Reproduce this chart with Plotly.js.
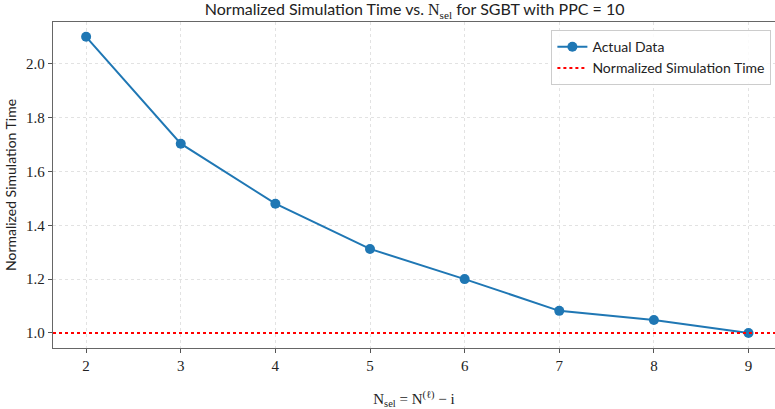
<!DOCTYPE html>
<html><head><meta charset="utf-8">
<script src="https://cdn.plot.ly/plotly-3.0.1.min.js"></script>
<style>body{margin:0;padding:0;background:#fff}#chart{width:775px;height:409px}</style>
</head><body><div id="chart"></div>
<script>
const nSel = [2, 3, 4, 5, 6, 7, 8, 9];
const normTime = [2.10, 1.703, 1.48, 1.312, 1.20, 1.082, 1.048, 1.00];
const referenceLevel = 1.0;
const xTicks = [2, 3, 4, 5, 6, 7, 8, 9];
const yTicks = [1.0, 1.2, 1.4, 1.6, 1.8, 2.0];
const yTickText = ["1.0", "1.2", "1.4", "1.6", "1.8", "2.0"];

const serif = "Liberation Serif, DejaVu Serif, serif";
const sans = "Lato, DejaVu Sans, sans-serif";

const traces = [{
  x: nSel, y: normTime, type: "scatter", mode: "lines+markers",
  name: "Actual Data",
  line: {color: "#1f77b4", width: 2},
  marker: {color: "#1f77b4", size: 10}
}];

const layout = {
  width: 775, height: 409,
  margin: {l: 53, r: 0, t: 22, b: 61},
  paper_bgcolor: "#fff", plot_bgcolor: "#fff",
  title: {
    text: 'Normalized Simulation Time vs. <span style="font-family:' + serif + '">N<sub>sel</sub></span> for SGBT with PPC = 10',
    font: {family: sans, size: 16, color: "#222"},
    x: 0.535, xanchor: "center", y: 0.99, yanchor: "top"
  },
  xaxis: {
    range: [1.65, 9.28], tickvals: xTicks, ticktext: xTicks.map(String),
    ticks: "outside", ticklen: 4, tickcolor: "#555",
    showgrid: true, gridcolor: "#e2e2e2", griddash: "dot", gridwidth: 1,
    showline: true, linecolor: "#666", linewidth: 1.2, mirror: true,
    zeroline: false,
    tickfont: {family: serif, size: 15, color: "#222"},
    title: {text: 'N<sub>sel</sub> = N<sup>(ℓ)</sup> − i', font: {family: serif, size: 15, color: "#222"}, standoff: 22}
  },
  yaxis: {
    range: [0.944, 2.155], tickvals: yTicks, ticktext: yTickText,
    ticks: "outside", ticklen: 4, tickcolor: "#555",
    showgrid: true, gridcolor: "#e2e2e2", griddash: "dot", gridwidth: 1,
    showline: true, linecolor: "#666", linewidth: 1.2, mirror: true,
    zeroline: false,
    tickfont: {family: serif, size: 15, color: "#222"},
    title: {text: "Normalized Simulation Time", font: {family: sans, size: 14, color: "#222"}, standoff: 6}
  },
  shapes: [{
    type: "line", xref: "paper", x0: 0, x1: 1, yref: "y", y0: referenceLevel, y1: referenceLevel,
    line: {color: "red", width: 2, dash: "dot"},
    name: "Normalized Simulation Time", showlegend: true
  }],
  legend: {
    x: 0.995, xanchor: "right", y: 0.975, yanchor: "top",
    bgcolor: "rgba(255,255,255,0.85)", bordercolor: "#ccc", borderwidth: 1,
    font: {family: sans, size: 14, color: "#222"}
  },
  showlegend: true
};
Plotly.newPlot("chart", traces, layout, {displayModeBar: false, staticPlot: true});
</script></body></html>
